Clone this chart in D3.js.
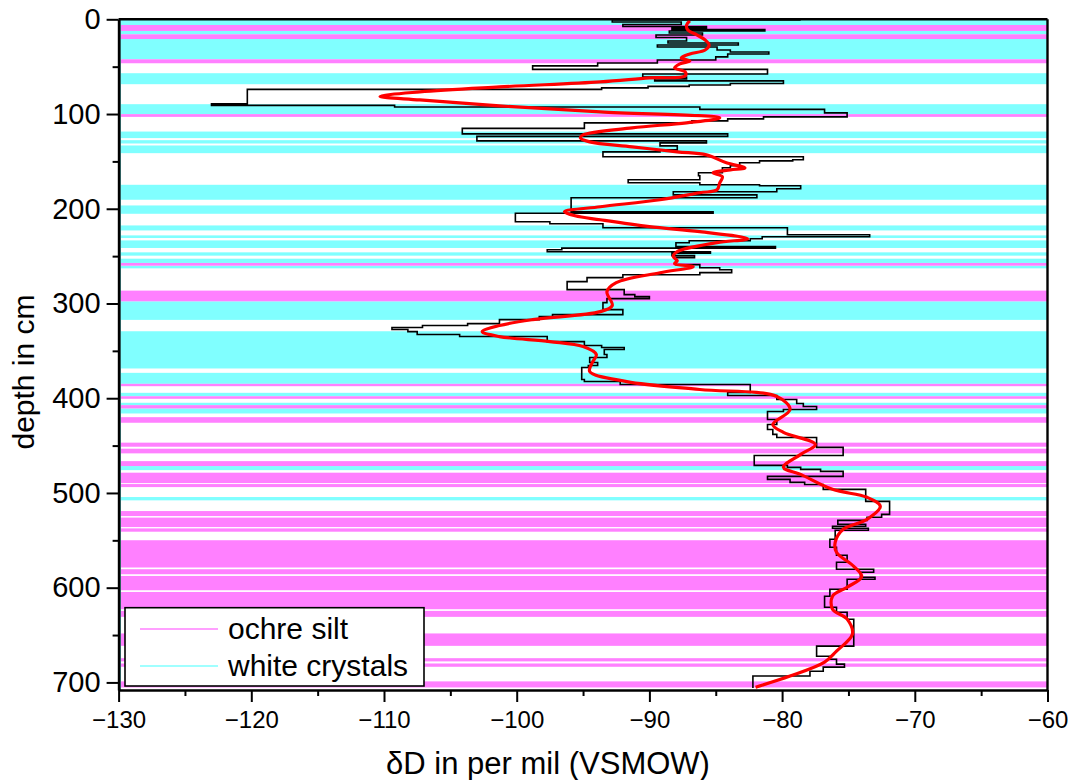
<!DOCTYPE html>
<html><head><meta charset="utf-8">
<script src="https://cdn.jsdelivr.net/npm/d3@7"></script>
<style>body{margin:0;background:#fff} svg{display:block} text{font-family:"Liberation Sans",Arial,sans-serif}</style>
</head><body><svg id="c" width="1068" height="780"></svg>
<script>
// ---- data ----
const crystalBands = [[0,6],[12.3,15.8],[20.8,42.2],[56.9,68.5],[89.6,100.1],[118.5,125.4],[127.6,131.1],[133.2,141.3],[174.7,190.5],[196.5,205.3],[217.6,222.9],[228.1,230.9],[233.4,241.4],[246,249.5],[252.7,257.2],[260.1,262.9],[297.7,317.3],[329.3,368.6],[373.2,384.8],[394.3,397.9],[404.8,407.3],[410.8,416.1],[471.6,475.9],[504.3,507.8]];
const ochreBands = [[6,12.3],[15.8,20.8],[42.2,46.4],[100.1,103],[257.2,260.1],[286.4,297.7],[384.8,387.3],[397.9,400.6],[407.3,410.8],[420,425.9],[446.9,451.2],[453.3,458.2],[466.4,471.6],[478.6,489.6],[490.6,493.8],[519.1,524.4],[526,536],[537.4,540.9],[549.9,578.7],[580.5,585.8],[587.6,602.7],[604.5,622.7],[624.5,630.8],[648.3,661.4],[674.4,677.8],[680,683.5],[698.9,705.3]];

const stepDepth = [0.7,2.8,5.5,7.6,9.2,10.8,12.3,14.4,16.6,19.2,
 22.9,25.0,27.1,29.2,32.4,34.5,36.6,39.7,42.9,46.1,
 49.2,52.9,57.7,60.9,62.9,65.0,67.7,69.3,70.8,72.4,
 74.0,89.3,90.9,92.5,95.1,98.8,103.0,105.1,107.2,109.3,
 115.1,120.9,123.6,128.3,130.4,133.6,137.8,139.9,145.1,148.3,
 149.4,151.5,154.6,156.7,162.0,165.2,169.4,172.6,174.7,175.7,
 178.9,182.1,185.3,188.4,203.1,204.7,213.7,215.8,220.0,227.4,
 229.5,231.6,233.7,235.8,240.0,241.6,243.2,245.3,246.9,249.5,
 251.6,259.0,262.2,264.3,267.4,269.6,272.7,276.9,285.4,290.6,
 292.8,294.9,299.1,306.5,311.7,313.8,317.0,321.2,323.3,325.4,
 327.5,329.7,332.8,334.9,340.2,344.4,346.5,348.6,353.9,357.0,
 362.3,365.5,367.6,380.2,382.4,385.5,394.0,397.1,401.3,405.5,
 408.7,411.9,414.0,422.4,427.7,433.0,438.2,441.4,451.9,460.4,
 470.9,473.0,475.1,477.2,482.5,485.7,488.8,491.0,496.2,508.9,
 522.6,525.7,528.9,533.1,535.2,537.3,539.4,548.9,557.3,565.8,
 573.2,580.6,583.7,589.0,591.1,601.7,609.0,620.6,625.9,633.3,
 661.7,672.3,675.5,680.7,683.9,688.2,693.3,706];
const stepValue = [-78.6,-92.8,-87.6,-92.0,-85.7,-88.3,-81.3,-88.5,-86.0,-89.5,
 -87.2,-88.6,-83.3,-89.4,-84.9,-83.9,-81.0,-84.1,-85.0,-89.4,
 -93.9,-98.8,-81.1,-90.5,-87.2,-89.6,-79.9,-83.9,-87.0,-90.1,
 -93.6,-120.3,-123.0,-109.2,-86.2,-76.8,-75.1,-81.4,-84.1,-86.8,
 -94.9,-104.1,-84.1,-103.0,-85.7,-89.2,-87.9,-89.2,-93.5,-78.4,
 -79.2,-81.7,-83.2,-83.9,-84.5,-86.3,-86.2,-91.6,-86.2,-81.7,
 -78.6,-80.4,-88.2,-81.9,-95.9,-85.2,-100.1,-97.5,-93.5,-79.6,
 -73.4,-81.5,-82.4,-87.0,-88.0,-80.5,-96.6,-97.7,-85.4,-88.3,
 -86.6,-88.0,-86.2,-84.7,-83.8,-86.2,-92.0,-94.7,-96.2,-91.9,
 -91.1,-90.0,-93.2,-93.5,-92.0,-97.3,-98.3,-101.3,-103.7,-107.1,
 -109.4,-108.2,-107.5,-104.3,-97.7,-94.9,-93.6,-91.9,-93.4,-93.2,
 -94.5,-93.9,-94.6,-95.1,-94.9,-92.2,-82.4,-84.1,-80.4,-78.9,
 -78.4,-77.4,-79.9,-81.1,-80.4,-81.1,-80.7,-80.4,-77.4,-75.4,
 -82.1,-79.6,-78.6,-77.1,-75.4,-81.1,-79.4,-78.3,-76.9,-73.7,
 -71.9,-72.5,-73.6,-75.8,-73.7,-76.2,-73.5,-76.0,-76.4,-75.9,
 -75.1,-75.9,-73.1,-74.1,-73.0,-75.1,-76.4,-76.8,-75.9,-75.1,
 -74.6,-77.4,-76.4,-75.9,-75.3,-76.9,-77.9,-82.2];

const smoothDepth = [1.5,6.0,11.3,16.6,21.8,27.1,32.4,36.6,40.8,44.0,
 47.1,51.3,55.6,59.8,61.9,66.1,71.4,76.6,81.4,85.1,
 91.4,97.7,104.1,109.3,114.6,122.0,125.1,129.4,134.6,139.9,
 143.1,151.5,156.8,158.9,162.1,166.3,172.6,180.0,183.1,190.5,
 197.9,203.1,207.4,211.6,218.9,224.2,231.6,235.8,245.3,250.6,
 254.8,258.0,261.1,267.5,278.0,287.5,302.2,308.6,317.0,323.3,
 329.7,334.9,340.2,345.5,353.9,362.3,371.8,382.4,390.8,398.2,
 411.9,427.7,436.1,448.8,459.3,472.9,480.4,496.2,504.6,514.1,
 527.8,538.4,552.1,562.6,577.4,588.4,599.5,609.0,622.7,633.2,
 649.1,667.0,678.6,693.3,705.0];
const smoothValue = [-86.95,-87.2,-87.1,-86.4,-85.8,-85.5,-85.8,-86.95,-87.6,-86.95,
 -87.7,-88.1,-87.3,-87.3,-90.0,-93.7,-101.3,-107.3,-110.3,-107.3,
 -101.3,-93.7,-84.7,-87.2,-91.3,-95.0,-95.2,-94.5,-91.3,-87.9,
 -85.7,-84.2,-82.8,-83.9,-85.2,-84.5,-84.7,-84.9,-86.2,-89.2,
 -93.7,-96.4,-95.6,-93.7,-90.0,-86.2,-82.6,-84.9,-87.9,-88.2,
 -87.9,-88.1,-86.7,-89.2,-92.5,-93.2,-92.8,-93.7,-98.8,-101.3,
 -102.6,-101.3,-97.5,-95.0,-94.0,-94.3,-94.5,-91.7,-86.2,-80.4,
 -79.4,-80.7,-79.9,-77.5,-78.6,-79.9,-78.6,-76.2,-73.6,-72.6,
 -73.6,-75.4,-76.0,-75.9,-74.6,-74.0,-75.1,-76.2,-76.2,-75.1,
 -74.7,-75.9,-76.8,-79.4,-82.0];

const xTicks = [-130,-120,-110,-100,-90,-80,-70,-60];
const xMinor = [-125,-115,-105,-95,-85,-75,-65];
const yTicks = [0,100,200,300,400,500,600,700];
const yMinor = [50,150,250,350,450,550,650];
const legendLabels = ["ochre silt","white crystals"];
const xTitle = "\u03B4D in per mil (VSMOW)";
const yTitle = "depth in cm";

// ---- drawing ----
const M = {l:118.6, r:1047.5, t:19.3, b:690};
const x = d3.scaleLinear().domain([-130,-60]).range([M.l, M.r]);
const y = d3.scaleLinear().domain([0,708]).range([M.t, M.b]);
const svg = d3.select('#c');
const CY = '#80FFFF', MG = '#FF80FF';

function bands(data, col){
  svg.append('g').selectAll('rect').data(data).join('rect')
    .attr('x', x(-130)).attr('width', x(-60)-x(-130))
    .attr('y', d=>y(d[0])).attr('height', d=>y(d[1])-y(d[0]))
    .attr('fill', col);
}
bands(crystalBands, CY);
bands(ochreBands, MG);

// thin teal edge line along left
svg.append('line').attr('x1', x(-130)+1.8).attr('x2', x(-130)+1.8)
  .attr('y1', y(0)).attr('y2', y(708)).attr('stroke','#4f9f9f').attr('stroke-width',1.2);

const steps = stepDepth.map((d,i)=>({d, v:stepValue[i]}));
svg.append('path').datum(steps)
  .attr('d', d3.line().x(p=>x(p.v)).y(p=>y(p.d)).curve(d3.curveStepAfter))
  .attr('fill','none').attr('stroke','#000').attr('stroke-width',1.6);

const smooth = smoothDepth.map((d,i)=>({d, v:smoothValue[i]}));
svg.append('path').datum(smooth)
  .attr('d', d3.line().x(p=>x(p.v)).y(p=>y(p.d)).curve(d3.curveCatmullRom.alpha(0.5)))
  .attr('fill','none').attr('stroke','#FF0000').attr('stroke-width',3.2).attr('stroke-linejoin','round');

// frame
svg.append('line').attr('x1',M.l).attr('x2',M.r).attr('y1',M.t).attr('y2',M.t).attr('stroke','#000').attr('stroke-width',2.4);
svg.append('line').attr('x1',M.r).attr('x2',M.r).attr('y1',M.t).attr('y2',M.b).attr('stroke','#000').attr('stroke-width',2.4);

// axes
const gy = svg.append('g').attr('transform',`translate(${M.l},0)`)
  .call(d3.axisLeft(y).tickValues(yTicks).tickSize(12).tickSizeOuter(0).tickPadding(6));
svg.append('g').attr('transform',`translate(${M.l},0)`)
  .call(d3.axisLeft(y).tickValues(yMinor).tickSize(6).tickSizeOuter(0).tickFormat(''))
  .select('.domain').remove();
const gx = svg.append('g').attr('transform',`translate(0,${M.b})`)
  .call(d3.axisBottom(x).tickValues(xTicks).tickSize(12).tickSizeOuter(0).tickPadding(9));
svg.append('g').attr('transform',`translate(0,${M.b})`)
  .call(d3.axisBottom(x).tickValues(xMinor).tickSize(6).tickSizeOuter(0).tickFormat(''))
  .select('.domain').remove();
svg.selectAll('.domain').attr('stroke','#000').attr('stroke-width',2.6);
svg.selectAll('.tick line').attr('stroke','#000').attr('stroke-width',2);
gy.selectAll('text').attr('font-size',29).attr('fill','#000').style('font-family','"Liberation Sans",Arial,sans-serif');
gx.selectAll('text').attr('font-size',24).attr('fill','#000').style('font-family','"Liberation Sans",Arial,sans-serif');

// titles
svg.append('text').attr('x',548).attr('y',774).attr('text-anchor','middle')
  .attr('font-size',31).text(xTitle);
svg.append('text').attr('transform','translate(34,372) rotate(-90)').attr('text-anchor','middle')
  .attr('font-size',30).text(yTitle);

// legend
const lg = svg.append('g');
lg.append('rect').attr('x',125).attr('y',607.7).attr('width',299).attr('height',78.3)
  .attr('fill','#fff').attr('stroke','#000').attr('stroke-width',1.6);
[MG, CY].forEach((c,i)=>{
  const yy = 629 + i*37;
  lg.append('line').attr('x1',140).attr('x2',218).attr('y1',yy).attr('y2',yy)
    .attr('stroke',c).attr('stroke-width',1.5);
  lg.append('text').attr('x',228).attr('y',yy+10).attr('font-size',30).text(legendLabels[i]);
});
</script></body></html>
